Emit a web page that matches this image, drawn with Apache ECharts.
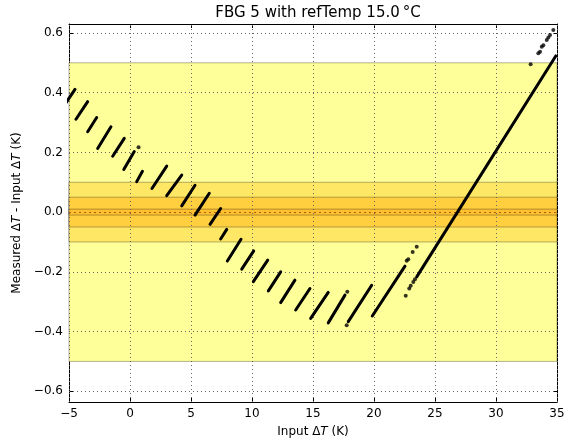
<!DOCTYPE html>
<html><head><meta charset="utf-8">
<script src="https://cdn.jsdelivr.net/npm/echarts@6/dist/echarts.min.js"></script>
<style>html,body{margin:0;padding:0;background:#fff}#c{width:574px;height:444px}</style>
</head><body><div id="c"></div>
<script>
// Axis ticks and visible range
const xTicks = [-5, 0, 5, 10, 15, 20, 25, 30, 35];
const yTicks = [-0.6, -0.4, -0.2, 0, 0.2, 0.4, 0.6];
const xRange = [-5, 35];
const yRange = [-0.636, 0.630];

// Measured runs: start and end [input dT, measured - input]
const segStart = [
  [-5.3, 0.363], [-4.43, 0.311], [-3.47, 0.269], [-2.65, 0.213], [-1.42, 0.187],
  [-0.51, 0.143], [0.55, 0.102], [1.80, 0.079], [3.01, 0.055], [4.24, 0.021],
  [5.33, -0.010], [6.56, -0.041], [7.43, -0.090], [7.98, -0.164], [9.16, -0.191],
  [10.11, -0.233], [11.34, -0.264], [12.35, -0.303], [13.58, -0.328], [14.81, -0.356],
  [16.25, -0.371], [17.89, -0.367], [19.86, -0.348], [23.50, -0.217]
];
const segEnd = [
  [-4.51, 0.411], [-3.47, 0.370], [-2.73, 0.317], [-1.56, 0.286], [-0.47, 0.247],
  [0.35, 0.203], [1.02, 0.137], [3.01, 0.154], [4.24, 0.124], [5.33, 0.090],
  [6.50, 0.063], [7.43, 0.012], [7.93, -0.058], [9.10, -0.091], [10.14, -0.130],
  [11.29, -0.161], [12.35, -0.200], [13.52, -0.228], [14.75, -0.256], [16.25, -0.269],
  [17.62, -0.278], [19.81, -0.245], [22.54, -0.181], [34.90, 0.523]
];
// Sparsely sampled readings
const loosePoints = [
  [0.70, 0.217], [17.81, -0.267], [17.76, -0.379],
  [22.68, -0.163], [22.81, -0.158], [23.17, -0.134], [23.50, -0.116],
  [22.60, -0.280], [22.89, -0.256], [23.01, -0.247], [23.22, -0.234], [23.36, -0.225],
  [32.84, 0.495], [33.47, 0.532], [33.61, 0.537], [33.75, 0.554], [33.88, 0.559],
  [34.16, 0.576], [34.29, 0.585], [34.43, 0.593], [34.70, 0.610]
];
// Tolerance bands (half widths) and fills
const bandHalf = [0.5, 0.1, 0.05, 0.01];
const bandFill = ['#ffff99', '#ffe766', '#ffcf40', '#fdc030'];

const FONT = 'DejaVu Sans';
const minus = v => String(v).replace('-', '\u2212');
const fmtY = v => minus(Number(v).toFixed(1));

const chart = echarts.init(document.getElementById('c'), null, {renderer: 'canvas'});

const axisLine = {show: true, onZero: false, lineStyle: {color: '#000', width: 1}};
const tickIn = {show: true, inside: true, length: 4, lineStyle: {color: '#000', width: 1}};
const labelStyle = {color: '#000', fontFamily: FONT, fontSize: 12};
const gridDot = {color: '#666', type: [1, 3], width: 1};

const series = [];
// bands
series.push({
  type: 'line', data: [], z: 1, silent: true,
  markArea: {
    silent: true,
    data: bandHalf.map((h, i) => [
      {yAxis: -h, itemStyle: {color: bandFill[i], borderColor: 'rgba(0,0,0,0.3)', borderWidth: 1}},
      {yAxis: h}
    ])
  }
});
// dotted grid and zero reference
series.push({
  type: 'line', data: [], z: 2, silent: true,
  markLine: {
    silent: true, symbol: 'none', label: {show: false},
    data: [
      ...xTicks.map(v => ({xAxis: v, lineStyle: gridDot})),
      ...yTicks.filter(v => v !== 0).map(v => ({yAxis: v, lineStyle: gridDot})),
      {yAxis: 0, lineStyle: {color: '#b85a00', type: [2, 3], width: 1}}
    ]
  }
});
// measured runs
segStart.forEach((s, i) => {
  series.push({
    type: 'line', z: 5, silent: true, symbol: 'none', clip: true,
    data: [s, segEnd[i]],
    lineStyle: {color: '#000', width: 3, cap: 'round'}
  });
});
series.push({
  type: 'scatter', z: 5, silent: true, clip: true,
  data: loosePoints, symbolSize: 4,
  itemStyle: {color: '#000'}
});

chart.setOption({
  animation: false,
  backgroundColor: '#fff',
  title: {
    text: 'FBG 5 with refTemp 15.0\u2009\u00b0C',
    left: 313, top: 1, textAlign: 'center',
    textStyle: {fontFamily: FONT, fontSize: 15, fontWeight: 'normal', color: '#000'}
  },
  grid: {left: 69, right: 17, top: 24, bottom: 42, containLabel: false},
  xAxis: [
    {
      type: 'value', min: xRange[0], max: xRange[1], interval: 5, position: 'bottom',
      axisLine, axisTick: tickIn, splitLine: {show: false},
      axisLabel: {...labelStyle, margin: 6, formatter: v => minus(v)},
      name: '{n|Input \u0394}{i|T}{n| (K)}', nameLocation: 'middle', nameGap: 24,
      nameTextStyle: {rich: {
        n: {fontFamily: FONT, fontSize: 12, color: '#000'},
        i: {fontFamily: FONT, fontSize: 12, fontStyle: 'italic', color: '#000'}
      }}
    },
    {
      type: 'value', min: xRange[0], max: xRange[1], interval: 5, position: 'top',
      axisLine, axisTick: tickIn, splitLine: {show: false}, axisLabel: {show: false}
    }
  ],
  yAxis: [
    {
      type: 'value', min: yRange[0], max: yRange[1], position: 'left',
      axisLine, splitLine: {show: false},
      axisTick: {...tickIn, customValues: yTicks},
      axisLabel: {...labelStyle, margin: 6, customValues: yTicks, formatter: fmtY},
      name: '{n|Measured \u0394}{i|T}{n| - Input \u0394}{i|T}{n| (K)}',
      nameLocation: 'middle', nameGap: 44, nameRotate: 90,
      nameTextStyle: {rich: {
        n: {fontFamily: FONT, fontSize: 12, color: '#000'},
        i: {fontFamily: FONT, fontSize: 12, fontStyle: 'italic', color: '#000'}
      }}
    },
    {
      type: 'value', min: yRange[0], max: yRange[1], position: 'right',
      axisLine, splitLine: {show: false},
      axisTick: {...tickIn, customValues: yTicks}, axisLabel: {show: false}
    }
  ],
  series
});
</script>
</body></html>
